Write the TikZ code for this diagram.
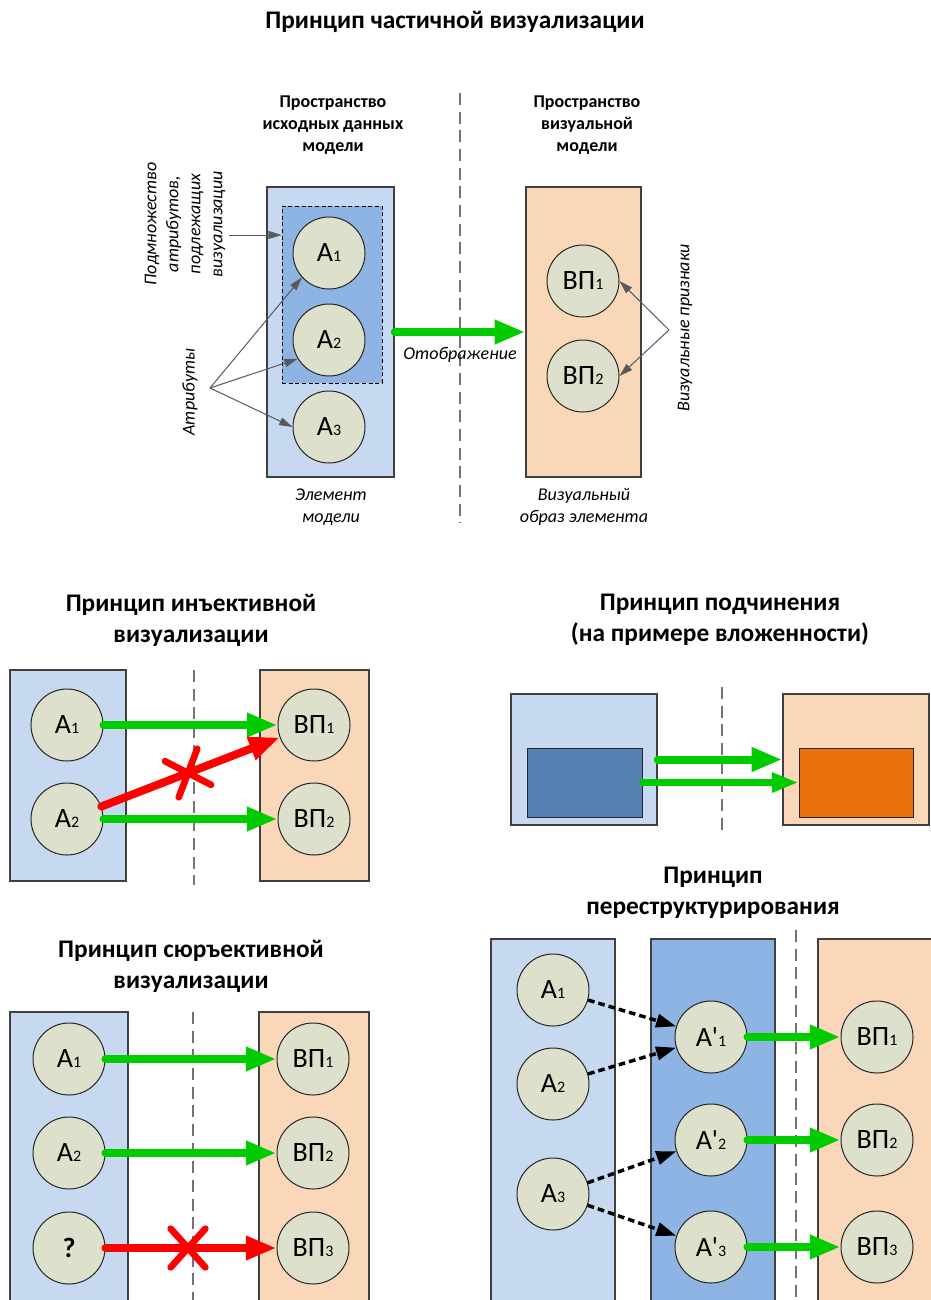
\documentclass[tikz,border=0pt]{standalone}
\usepackage{fontspec}
\setmainfont{Carlito}
\usetikzlibrary{arrows.meta,positioning,fit,shapes.misc}

\definecolor{srcblue}{HTML}{C6D9F0}
\definecolor{midblue}{HTML}{8EB4E3}
\definecolor{deepblue}{HTML}{5780B3}
\definecolor{peach}{HTML}{FBD7B9}
\definecolor{deeporange}{HTML}{E9720F}
\definecolor{attrfill}{HTML}{DDE0CA}
\definecolor{mapgreen}{HTML}{00CC00}
\definecolor{badred}{HTML}{FF0000}
\definecolor{pointgray}{HTML}{595959}

\newcommand{\lowidx}[1]{{\fontsize{12pt}{12pt}\selectfont #1}}

\begin{document}
\begin{tikzpicture}[x=0.75pt, y=-0.75pt,
    attr/.style={circle, draw=black!85, line width=0.75pt, fill=attrfill, minimum size=54pt, inner sep=0pt, font=\fontsize{21pt}{21pt}\selectfont},
    srcbox/.style={rectangle, draw=black!75, line width=1.1pt, fill=srcblue, inner sep=0pt},
    midbox/.style={srcbox, fill=midblue},
    visbox/.style={srcbox, fill=peach},
    title/.style={font=\fontsize{19pt}{23.25pt}\selectfont\bfseries, align=center},
    head/.style={font=\fontsize{13.5pt}{16.5pt}\selectfont\bfseries, align=center},
    note/.style={font=\fontsize{13.5pt}{16.5pt}\selectfont\itshape, align=center},
    divider/.style={draw=black!55, line width=1.1pt, dash pattern=on 9pt off 5pt},
    maparrow/.style={draw=mapgreen, line width=6pt, line cap=round, -{Triangle[length=23pt, width=17pt]}},
    badarrow/.style={maparrow, draw=badred},
    pointer/.style={draw=pointgray, line width=0.75pt, -{Triangle[length=10pt, width=6pt]}},
    linkarrow/.style={draw=black, line width=2.6pt, dash pattern=on 5pt off 3pt, -{Triangle[length=15pt, width=10pt]}},
    crossmark/.style={cross out, draw=badred, line width=5pt, line cap=round, minimum width=21pt, minimum height=24pt, inner sep=0pt}]

    \useasboundingbox (0,0) rectangle (931,1300);

    % Partial visualisation
    \node[title] (tpart) at (455,22) {Принцип частичной визуализации};
    \node[head] (hsrc) at (333,125) {Пространство\\исходных данных\\модели};
    \node[head] (hvis) at (587,125) {Пространство\\визуальной\\модели};
    \draw[divider] (460,93) -- (460,523);

    \node[srcbox, fit={(267,187) (394,477)}] (src) {};
    \node[rectangle, draw=black, densely dashed, line width=0.5pt, fill=midblue, inner sep=0pt, fit={(282,206) (382,383)}] (subset) {};
    \node[attr] (a1) at (329,253) {А\lowidx{1}};
    \node[attr] (a2) at (329,340) {А\lowidx{2}};
    \node[attr] (a3) at (329,427) {А\lowidx{3}};

    \node[visbox, fit={(526,187) (641,477)}] (vis) {};
    \node[attr] (v1) at (583,281) {ВП\lowidx{1}};
    \node[attr] (v2) at (583,376) {ВП\lowidx{2}};

    \draw[maparrow] (src.east) -- (vis.west);
    \node[note] (lmap) at (460,355) {Отображение};
    \node[note] (nsrc) at (331,507) {Элемент\\модели};
    \node[note] (nvis) at (584,507) {Визуальный\\образ элемента};

    % Side notes
    \node[note, rotate=90] (nsub) at (185,224) {Подмножество\\атрибутов,\\подлежащих\\визуализации};
    \node[note, rotate=90] (nattr) at (190,392) {Атрибуты};
    \node[note, rotate=90] (nfeat) at (685,328) {Визуальные признаки};
    \coordinate (psub) at (229,235);
    \coordinate (pattr) at (210,388);
    \coordinate (pfeat) at (669,330);
    \draw[pointer] (psub) -- (psub -| subset.west);
    \draw[pointer] (pattr) -- (a1.222);
    \draw[pointer] (pattr) -- (a2.211);
    \draw[pointer] (pattr) -- (a3.west);
    \draw[pointer] (pfeat) -- (v1.east);
    \draw[pointer] (pfeat) -- (v2.east);

    % Injective visualisation
    \node[title] (tinj) at (191,620) {Принцип инъективной\\визуализации};
    \node[srcbox, fit={(10,670) (126,881)}] (isrc) {};
    \node[visbox, fit={(260,670) (369,881)}] (ivis) {};
    \draw[divider] (194,670) -- (194,885);
    \node[attr] (ia1) at (67,725) {А\lowidx{1}};
    \node[attr] (ia2) at (67,819) {А\lowidx{2}};
    \node[attr] (iv1) at (314,725) {ВП\lowidx{1}};
    \node[attr] (iv2) at (314,819) {ВП\lowidx{2}};
    \draw[maparrow] (ia1.east) -- (iv1.west);
    \draw[maparrow] (ia2.east) -- (iv2.west);
    \draw[badarrow] (ia2.20) -- (iv1.200);
    \node[crossmark, rotate=21] (icross) at (188,773) {};

    % Subordination
    \node[title] (tsub) at (720,620) {Принцип подчинения\\(на примере вложенности)};
    \node[srcbox, fit={(511,694) (657,825)}] (sl) {};
    \node[srcbox, fill=deepblue, line width=0.75pt, draw=black!85, fit={(527,748) (642,817)}] (sli) {};
    \node[visbox, fit={(783,694) (929,825)}] (sr) {};
    \node[visbox, fill=deeporange, line width=0.75pt, draw=black!85, fit={(799,748) (913,817)}] (sri) {};
    \draw[divider] (722,687) -- (722,835);
    \draw[maparrow] (sl.east) -- (sr.west);
    \draw[maparrow, line width=5pt, -{Triangle[length=20pt, width=14pt]}] (sli.east) -- (sri.west);

    % Surjective visualisation
    \node[title] (tsur) at (191,966) {Принцип сюръективной\\визуализации};
    \node[srcbox, fit={(10,1012) (128,1310)}] (ssrc) {};
    \node[visbox, fit={(259,1012) (369,1310)}] (svis) {};
    \draw[divider] (193,1012) -- (193,1300);
    \node[attr] (sa1) at (69,1059) {А\lowidx{1}};
    \node[attr] (sa2) at (69,1153) {А\lowidx{2}};
    \node[attr] (sq) at (69,1248) {\textbf{?}};
    \node[attr] (sv1) at (313,1059) {ВП\lowidx{1}};
    \node[attr] (sv2) at (313,1153) {ВП\lowidx{2}};
    \node[attr] (sv3) at (313,1248) {ВП\lowidx{3}};
    \draw[maparrow] (sa1.east) -- (sv1.west);
    \draw[maparrow] (sa2.east) -- (sv2.west);
    \draw[badarrow] (sq.east) -- (sv3.west);
    \node[crossmark] (scross) at (188,1248) {};

    % Restructuring
    \node[title] (tres) at (713,893) {Принцип\\переструктурирования};
    \node[srcbox, fit={(491,939) (615,1310)}] (rsrc) {};
    \node[midbox, fit={(651,939) (775,1310)}] (rmid) {};
    \node[visbox, fit={(818,939) (940,1310)}] (rvis) {};
    \draw[divider] (796,930) -- (796,1300);
    \node[attr] (r1) at (553,990) {А\lowidx{1}};
    \node[attr] (r2) at (553,1084) {А\lowidx{2}};
    \node[attr] (r3) at (553,1194) {А\lowidx{3}};
    \node[attr] (q1) at (711,1037) {А\textquotesingle\lowidx{1}};
    \node[attr] (q2) at (711,1140) {А\textquotesingle\lowidx{2}};
    \node[attr] (q3) at (711,1247) {А\textquotesingle\lowidx{3}};
    \node[attr] (w1) at (877,1037) {ВП\lowidx{1}};
    \node[attr] (w2) at (877,1140) {ВП\lowidx{2}};
    \node[attr] (w3) at (877,1247) {ВП\lowidx{3}};
    \draw[linkarrow] (r1.-16) -- (q1.163);
    \draw[linkarrow] (r2.16) -- (q1.197);
    \draw[linkarrow] (r3.18) -- (q2.198);
    \draw[linkarrow] (r3.-18) -- (q3.162);
    \draw[maparrow] (q1.east) -- (w1.west);
    \draw[maparrow] (q2.east) -- (w2.west);
    \draw[maparrow] (q3.east) -- (w3.west);

\end{tikzpicture}
\end{document}
